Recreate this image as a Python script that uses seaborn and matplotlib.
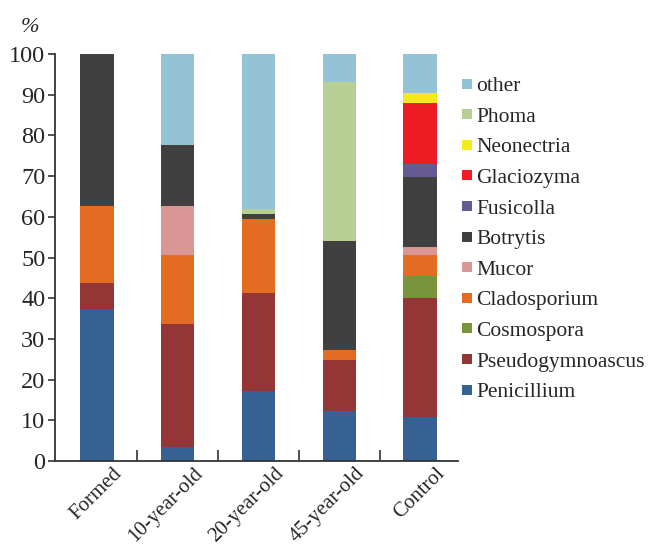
import numpy as np
import pandas as pd
import matplotlib
matplotlib.use("Agg")
import matplotlib.pyplot as plt
import matplotlib.transforms as mtransforms
from matplotlib.lines import Line2D
import seaborn as sns

# categories (x axis)
sites = ["Formed", "10-year-old", "20-year-old", "45-year-old", "Control"]

# genera, bottom to top of each stack
genera = ["Penicillium", "Pseudogymnoascus", "Cosmospora", "Cladosporium", "Mucor",
          "Botrytis", "Fusicolla", "Glaciozyma", "Neonectria", "Phoma", "other"]

# share of each genus, %, one value per site
penicillium      = [37.3, 3.4, 17.2, 12.3, 10.7]
pseudogymnoascus = [6.4, 30.2, 24.2, 12.5, 29.4]
cosmospora       = [0.0, 0.0, 0.0, 0.0, 5.4]
cladosporium     = [19.0, 17.0, 18.0, 2.5, 5.1]
mucor            = [0.0, 12.1, 0.0, 0.0, 1.9]
botrytis         = [37.3, 14.9, 1.3, 26.8, 17.4]
fusicolla        = [0.0, 0.0, 0.0, 0.0, 3.1]
glaciozyma       = [0.0, 0.0, 0.0, 0.0, 15.0]
neonectria       = [0.0, 0.0, 0.0, 0.0, 2.3]
phoma            = [0.0, 0.0, 1.2, 38.9, 0.0]
other            = [0.0, 22.4, 38.1, 7.0, 9.7]

colors = ["#356193", "#943536", "#77933c", "#e46c22", "#d99694",
          "#404040", "#665a94", "#ee1c25", "#f2ea1a", "#b8cf94", "#93c3d4"]

values = [penicillium, pseudogymnoascus, cosmospora, cladosporium, mucor,
          botrytis, fusicolla, glaciozyma, neonectria, phoma, other]

df = pd.DataFrame(np.array(values).T, index=sites, columns=genera)
cum = df.cumsum(axis=1)

sns.set_style("ticks")
plt.rcParams["font.family"] = ["Liberation Serif", "DejaVu Serif"]

fig = plt.figure(figsize=(6.48, 5.47), dpi=100)
ax = fig.add_axes([55 / 648, 86 / 547, (458 - 55) / 648, (461 - 54) / 547])

# draw cumulative totals from the top layer down so each layer shows its own slice
for g, c in zip(genera[::-1], colors[::-1]):
    sns.barplot(x=cum.index, y=cum[g].values, color=c, width=0.41,
                saturation=1, ax=ax, linewidth=0)

ax.set_xlim(-0.52, 4.47)
ax.set_ylim(0, 100)
ax.set_yticks(range(0, 101, 10))
ax.set_xlabel("")
ax.set_ylabel("")

for s in ["top", "right"]:
    ax.spines[s].set_visible(False)
for s in ["left", "bottom"]:
    ax.spines[s].set_linewidth(1.3)
    ax.spines[s].set_color("#333333")

ax.tick_params(axis="y", direction="out", length=5, width=1.2, labelsize=17.5,
               color="#333333", pad=2)
ax.tick_params(axis="x", which="major", length=0, labelsize=15, pad=0)
ax.set_xticks([0.5, 1.5, 2.5, 3.5], minor=True)
ax.tick_params(axis="x", which="minor", direction="in", length=8, width=1.2,
               color="#333333")

offset = mtransforms.ScaledTranslation(0.22, -0.10, fig.dpi_scale_trans)
for lab in ax.get_xticklabels():
    lab.set_rotation(45)
    lab.set_ha("right")
    lab.set_va("center")
    lab.set_rotation_mode("anchor")
    lab.set_transform(lab.get_transform() + offset)

fig.text(30 / 648, 1 - 27 / 547, "%", fontsize=16, style="italic",
         ha="center", va="center")

handles = [Line2D([], [], marker="s", linestyle="", markersize=7,
                  markerfacecolor=c, markeredgewidth=0)
           for c in colors[::-1]]
leg = fig.legend(handles, genera[::-1], loc="upper left",
                 bbox_to_anchor=(461 / 648, 1 - 76 / 547), frameon=False,
                 fontsize=15.5, handlelength=0.6, handletextpad=0.1,
                 labelspacing=0.49, borderaxespad=0, borderpad=0)

fig.savefig("out.png", dpi=100)
